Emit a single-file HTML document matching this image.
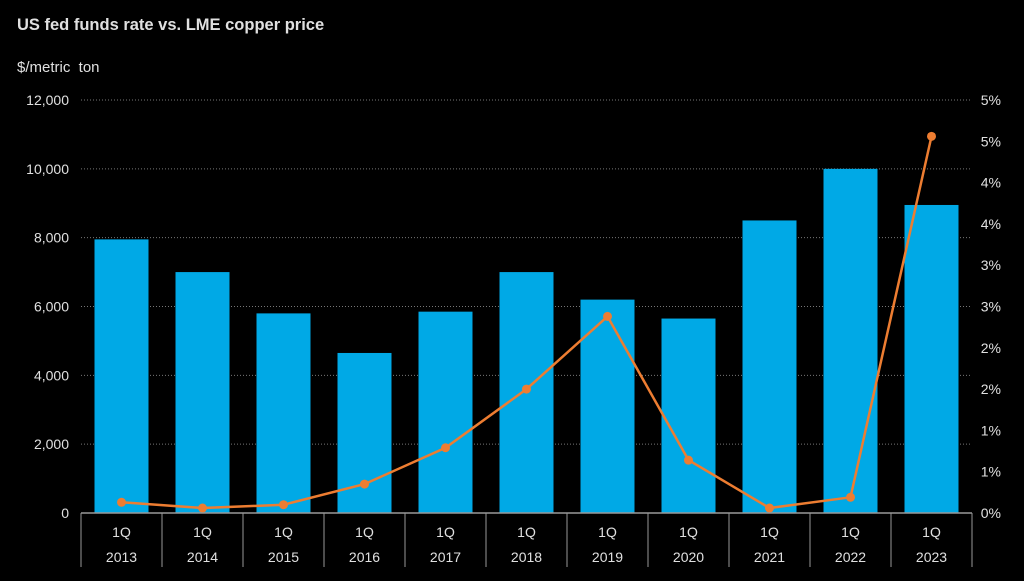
<!DOCTYPE html>
<html><head><meta charset="utf-8"><style>
body{margin:0;background:#000;width:1024px;height:576px;overflow:hidden;font-family:"Liberation Sans",sans-serif}
</style></head><body>
<svg width="1024" height="576" xmlns="http://www.w3.org/2000/svg">
<text x="17" y="30" fill="#e0e0e0" font-size="16.5" font-weight="bold">US fed funds rate vs. LME copper price</text>
<text x="17" y="72" fill="#e0e0e0" font-size="15">$/metric&#160; ton</text>
<g id="grid"></g><g id="bars"></g><g id="line"></g><g id="axes"></g>
</svg>
<script>
const categories=["2013","2014","2015","2016","2017","2018","2019","2020","2021","2022","2023"];
const copper=[7950,7000,5800,4650,5850,7000,6200,5650,8500,10000,8950];
const rate=[0.13,0.06,0.1,0.35,0.79,1.5,2.38,0.64,0.06,0.19,4.56];
const leftTicks=[0,2000,4000,6000,8000,10000,12000];
const rightTicks=[0,0.5,1,1.5,2,2.5,3,3.5,4,4.5,5];
const rightLabels=["0%","1%","1%","2%","2%","3%","3%","4%","4%","5%","5%"];
const NS="http://www.w3.org/2000/svg";
const X0=81,CW=81,Y0=513,Y1=100;
const yL=v=>Y0-(v/12000)*(Y0-Y1);
const yR=v=>Y0-(v/5)*(Y0-Y1);
const xc=i=>X0+CW*i+CW/2;
function mk(p,t,a){const e=document.createElementNS(NS,t);for(const k in a)e.setAttribute(k,a[k]);p.appendChild(e);return e;}
const grid=document.getElementById('grid'),bars=document.getElementById('bars'),line=document.getElementById('line'),axes=document.getElementById('axes');
leftTicks.forEach(v=>{
  if(v>0){const g=mk(grid,'line',{x1:X0,x2:972,y1:yL(v),y2:yL(v),stroke:'#777','stroke-dasharray':'1 2','stroke-width':1});
  
  }
  const t=mk(axes,'text',{x:69,y:yL(v)+5,fill:'#e0e0e0','font-size':14,'text-anchor':'end'});
  t.textContent=v.toLocaleString('en-US');
  
  
});
rightTicks.forEach((v,i)=>{
  const t=mk(axes,'text',{x:1001,y:yR(v)+5,fill:'#e0e0e0','font-size':14,'text-anchor':'end'});
  t.textContent=rightLabels[i];
  
  
});
categories.forEach((c,i)=>{
  const b=mk(bars,'rect',{x:xc(i)-27,y:yL(copper[i]),width:54,height:Y0-yL(copper[i]),fill:'#00a9e6'});
  
  
  const q=mk(axes,'text',{x:xc(i),y:537,fill:'#e0e0e0','font-size':14,'text-anchor':'middle'});q.textContent='1Q';
  
  
  const y=mk(axes,'text',{x:xc(i),y:562,fill:'#e0e0e0','font-size':14,'text-anchor':'middle'});y.textContent=c;
  
  
});
for(let i=0;i<=11;i++){const s=mk(axes,'line',{x1:X0+CW*i,x2:X0+CW*i,y1:Y0,y2:567,stroke:'#999','stroke-width':1});
  
  }
const ax=mk(axes,'line',{x1:X0,x2:972,y1:Y0,y2:Y0,stroke:'#999','stroke-width':1.5});


const pl=mk(line,'polyline',{points:rate.map((v,i)=>xc(i)+','+yR(v)).join(' '),fill:'none',stroke:'#ed7d31','stroke-width':2.5});


rate.forEach((v,i)=>{const p=mk(line,'circle',{cx:xc(i),cy:yR(v),r:4.5,fill:'#ed7d31'});
  
  });
</script>
</body></html>
